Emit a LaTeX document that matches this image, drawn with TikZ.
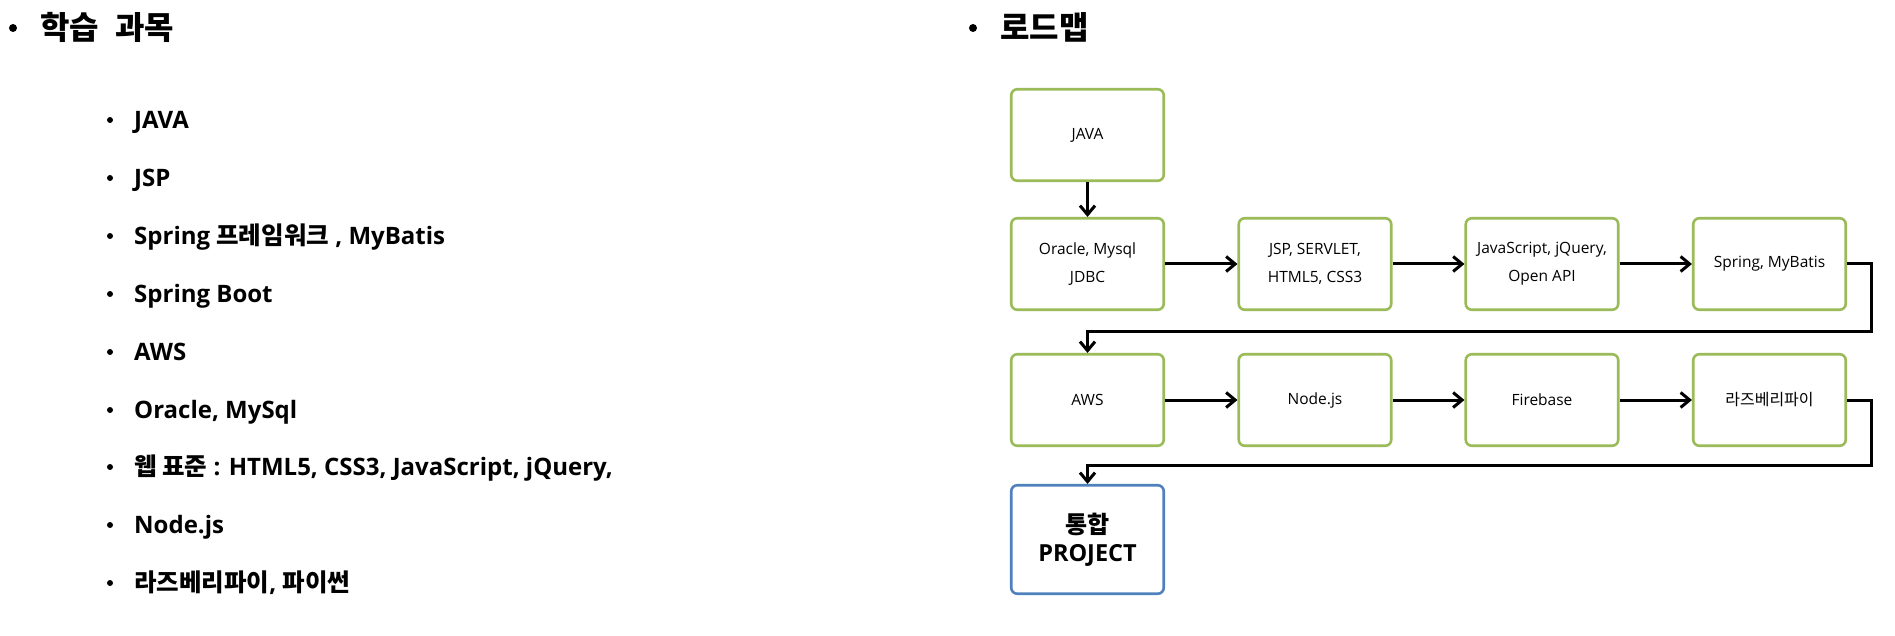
\documentclass[tikz,border=0pt]{standalone}
\usepackage{fontspec}
\setmainfont{Open Sans}
\newfontfamily\kr{Noto Sans CJK KR}
\newcommand\krtext[1]{{\kr\fontsize{24.5}{24}\selectfont #1}}
\usetikzlibrary{arrows.meta}
\definecolor{boxgreen}{HTML}{9BBB59}
\definecolor{boxblue}{HTML}{4F81BD}
\begin{document}
\begin{tikzpicture}[x=1pt,y=-1pt,
  stepbox/.style={draw=boxgreen,line width=2.6pt,rounded corners=6pt,minimum width=152.5pt,minimum height=91.5pt,align=center,inner sep=0pt,font=\fontsize{15.5}{28}\selectfont},
  projbox/.style={stepbox,draw=boxblue,minimum height=108.5pt,font=\fontsize{23.5}{28}\selectfont\bfseries},
  conn/.style={line width=3pt,-{Straight Barb[length=9pt,width=15pt]}},
  title/.style={anchor=base west,inner sep=0pt,font=\fontsize{32}{32}\selectfont\bfseries\kr},
  item/.style={anchor=base west,inner sep=0pt,font=\fontsize{24}{24}\selectfont\bfseries},
  bul/.style={fill=black,circle,inner sep=0pt,minimum size=6pt}
]
\useasboundingbox (0,0) rectangle (1895,636);
% titles
\node[bul,minimum size=8pt] (tb1) at (13,28) {};
\node[title] (t1) at (40,40) {학습\hspace{16pt}과목};
\node[bul,minimum size=8pt] (tb2) at (973,28) {};
\node[title] (t2) at (1000,40) {로드맵};
% list
\foreach \y/\txt [count=\i] in {120/JAVA,178/JSP,236/{Spring \krtext{프레임워크} , MyBatis},294/Spring Boot,352/AWS,410/{Oracle, MySql},467/{\krtext{웹 표준} : HTML5, CSS3, JavaScript, jQuery,},525/Node.js,583/{\krtext{라즈베리파이}, \krtext{파이썬}}}{
  \node[bul] (b\i) at (110,\y) {};
  \node[item] (it\i) at (134,\y+8.5) {\txt};
}
% roadmap boxes
\node[stepbox] (java) at (1087.5,135) {JAVA};
\node[stepbox] (oracle) at (1087.5,264) {Oracle, Mysql\\JDBC};
\node[stepbox] (jsp) at (1315,264) {JSP, SERVLET,\\HTML5, CSS3};
\node[stepbox] (js) at (1542,264) {JavaScript, jQuery,\\Open API};
\node[stepbox] (spring) at (1769.5,264) {Spring, MyBatis};
\node[stepbox] (aws) at (1087.5,400) {AWS};
\node[stepbox] (node) at (1315,400) {Node.js};
\node[stepbox] (fire) at (1542,400) {Firebase};
\node[stepbox,font=\fontsize{16}{28}\selectfont\kr] (rasp) at (1769.5,400) {라즈베리파이};
\node[projbox] (proj) at (1087.5,539.5) {{\kr\fontsize{24}{28}\selectfont 통합}\\PROJECT};
% connectors
\draw[conn] (java) -- (oracle);
\draw[conn] (oracle) -- (jsp);
\draw[conn] (jsp) -- (js);
\draw[conn] (js) -- (spring);
\draw[conn] (spring.east) -- ++(24,0) -- ++(0,67) -| (aws.north);
\draw[conn] (aws) -- (node);
\draw[conn] (node) -- (fire);
\draw[conn] (fire) -- (rasp);
\draw[conn] (rasp.east) -- ++(24,0) -- ++(0,65) -| (proj.north);
\end{tikzpicture}
\end{document}
